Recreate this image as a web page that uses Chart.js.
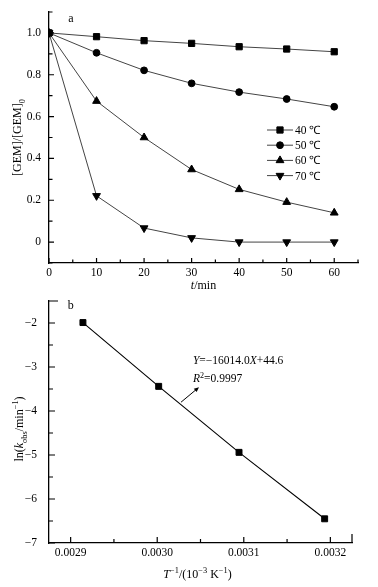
<!DOCTYPE html>
<html><head><meta charset="utf-8">
<script src="https://cdn.jsdelivr.net/npm/chart.js@4"></script>
<style>
html,body{margin:0;padding:0;background:#fff;width:378px;height:587px;overflow:hidden}
#wa{position:absolute;left:0;top:0;width:378px;height:295px}
#wb{position:absolute;left:0;top:295px;width:378px;height:292px}
</style></head><body>
<div id="wa"><canvas id="ca"></canvas></div>
<div id="wb"><canvas id="cb"></canvas></div>
<script>
// ---------- data (chart a) ----------
const timeMin = [0, 10, 20, 30, 40, 50, 60];
const ratio40 = [1.0, 0.982, 0.963, 0.950, 0.934, 0.923, 0.910];
const ratio50 = [1.0, 0.905, 0.821, 0.759, 0.717, 0.684, 0.647];
const ratio60 = [1.0, 0.674, 0.500, 0.347, 0.252, 0.191, 0.140];
const ratio70 = [1.0, 0.221, 0.067, 0.020, 0.0, 0.0, 0.0];
const err40 = [0, 0.025, 0.024, 0.022, 0.019, 0.019, 0.012];
const err50 = [0, 0.016, 0.012, 0.012, 0.012, 0.021, 0.010];
const err60 = [0, 0.030, 0.024, 0.021, 0.012, 0.014, 0.016];
const err70 = [0, 0.016, 0.010, 0.010, 0.006, 0.006, 0.006];
const seriesLabels = ['40 \u2103', '50 \u2103', '60 \u2103', '70 \u2103'];
const xTickValsA = [0, 5, 10, 15, 20, 25, 30, 35, 40, 45, 50, 55, 60, 65];
const xTickLabelsA = ['0', '', '10', '', '20', '', '30', '', '40', '', '50', '', '60', ''];
const yTickValsA = [-0.1, 0, 0.1, 0.2, 0.3, 0.4, 0.5, 0.6, 0.7, 0.8, 0.9, 1.0, 1.1];
const yTickLabelsA = ['', '0', '', '0.2', '', '0.4', '', '0.6', '', '0.8', '', '1.0', ''];

// ---------- data (chart b) ----------
const invTemp = [0.0029142, 0.0030017, 0.0030945, 0.0031934];
const lnKobs = [-1.99, -3.44, -4.94, -6.45];
const xTickValsB = [0.0029, 0.00295, 0.0030, 0.00305, 0.0031, 0.00315, 0.0032];
const xTickLabelsB = ['0.0029', '', '0.0030', '', '0.0031', '', '0.0032'];
const yTickValsB = [-7, -6.5, -6, -5.5, -5, -4.5, -4, -3.5, -3, -2.5, -2];
const yTickLabelsB = ['\u22127', '', '\u22126', '', '\u22125', '', '\u22124', '', '\u22123', '', '\u22122'];

const FONT = '"Liberation Serif", "Times New Roman", serif';

function rich(ctx, segs, x, y, size, rot, align) {
  ctx.save();
  ctx.translate(x, y);
  if (rot) ctx.rotate(rot);
  const fontOf = s => (s.i ? 'italic ' : '') + ((s.sub || s.sup) ? size * 0.7 : size) + 'px ' + FONT;
  let w = 0;
  segs.forEach(s => { ctx.font = fontOf(s); s.w = ctx.measureText(s.t).width; w += s.w; });
  let cx = align === 'left' ? 0 : -w / 2;
  ctx.textBaseline = 'alphabetic'; ctx.textAlign = 'left'; ctx.fillStyle = '#000';
  const base = size * 0.35;
  segs.forEach(s => {
    ctx.font = fontOf(s);
    const dy = s.sub ? size * 0.3 : (s.sup ? -size * 0.4 : 0);
    ctx.fillText(s.t, cx, base + dy);
    cx += s.w;
  });
  ctx.restore();
}

function inwardTicks(xv, xl, yv, yl, major, minor, caps) {
  return {
    id: 'inTicks',
    afterDatasetsDraw(chart) {
      const ctx = chart.ctx, a = chart.chartArea, xs = chart.scales.x, ys = chart.scales.y;
      ctx.save();
      ctx.strokeStyle = '#000'; ctx.lineWidth = 1.2;
      ctx.beginPath();
      xv.forEach((v, i) => {
        const p = xs.getPixelForValue(v), L = xl[i] ? major : minor;
        ctx.moveTo(p, a.bottom); ctx.lineTo(p, a.bottom - L);
      });
      yv.forEach((v, i) => {
        const p = ys.getPixelForValue(v), L = yl[i] ? major : minor;
        ctx.moveTo(a.left, p); ctx.lineTo(a.left + L, p);
      });
      if (caps) {
        ctx.moveTo(a.right, a.bottom); ctx.lineTo(a.right, a.bottom - caps);
        ctx.moveTo(a.left, a.top); ctx.lineTo(a.left + caps, a.top);
      }
      ctx.stroke();
      ctx.restore();
    }
  };
}

function fixScaleX(h) {
  return s => { s.height = h; s.paddingLeft = 0; s.paddingRight = 0; s.paddingTop = 0; s.paddingBottom = 0; };
}
function fixScaleY(w) {
  return s => { s.width = w; s.paddingLeft = 0; s.paddingRight = 0; s.paddingTop = 0; s.paddingBottom = 0; };
}

// ---------------- chart a ----------------
const errsA = [err40, err50, err60, err70];
const errorBars = {
  id: 'errBars',
  beforeDatasetsDraw(chart) {
    const ctx = chart.ctx, xs = chart.scales.x, ys = chart.scales.y;
    ctx.save(); ctx.strokeStyle = '#333'; ctx.lineWidth = 1;
    chart.data.datasets.forEach((ds, di) => {
      const e = errsA[di];
      ds.data.forEach((v, j) => {
        if (!e[j]) return;
        const x = xs.getPixelForValue(timeMin[j]);
        const y1 = ys.getPixelForValue(v + e[j]), y2 = ys.getPixelForValue(v - e[j]);
        ctx.beginPath();
        ctx.moveTo(x, y1); ctx.lineTo(x, y2);
        ctx.moveTo(x - 2.5, y1); ctx.lineTo(x + 2.5, y1);
        ctx.moveTo(x - 2.5, y2); ctx.lineTo(x + 2.5, y2);
        ctx.stroke();
      });
    });
    ctx.restore();
  }
};
const decoA = {
  id: 'decoA',
  afterDraw(chart) {
    const ctx = chart.ctx, a = chart.chartArea, xs = chart.scales.x, ys = chart.scales.y;
    // legend
    chart.data.datasets.forEach((ds, i) => {
      const y = a.top + 118 + i * 15.2;
      const x0 = a.left + 218, x1 = a.left + 244, xm = a.left + 231;
      ctx.save();
      ctx.strokeStyle = ds.borderColor; ctx.lineWidth = 1;
      ctx.beginPath(); ctx.moveTo(x0, y); ctx.lineTo(x1, y); ctx.stroke();
      ctx.fillStyle = '#000'; ctx.strokeStyle = '#000';
      Chart.helpers.drawPoint(ctx, { pointStyle: ds.pointStyle, rotation: ds.pointRotation || 0, radius: ds.pointRadius, borderWidth: 1 }, xm, y);
      ctx.restore();
      rich(ctx, [{ t: seriesLabels[i] }], x1 + 2, y, 11.5, 0, 'left');
    });
    // panel label
    rich(ctx, [{ t: 'a' }], xs.getPixelForValue(4.63), ys.getPixelForValue(1.071), 12, 0, 'center');
    // axis titles
    rich(ctx, [{ t: '[GEM]/[GEM]' }, { t: '0', sub: true }], 17, (a.top + a.bottom) / 2, 12, -Math.PI / 2, 'center');
    rich(ctx, [{ t: 't', i: true }, { t: '/min' }], (a.left + a.right) / 2, 285, 12, 0, 'center');
  }
};

const mk = (label, data, style, radius, rot) => ({
  label, data, borderColor: '#444', borderWidth: 1, pointStyle: style, pointRadius: radius,
  pointRotation: rot || 0, pointBackgroundColor: '#000', pointBorderColor: '#000', pointBorderWidth: 1,
  tension: 0, fill: false
});

new Chart(document.getElementById('ca'), {
  type: 'line',
  data: {
    labels: timeMin,
    datasets: [
      mk(seriesLabels[0], ratio40, 'rect', 4.4),
      mk(seriesLabels[1], ratio50, 'circle', 3.4),
      mk(seriesLabels[2], ratio60, 'triangle', 4.5),
      mk(seriesLabels[3], ratio70, 'triangle', 4.5, 180)
    ].map(d => ({ ...d, data: d.data.map((v, j) => ({ x: timeMin[j], y: v })) }))
  },
  options: {
    responsive: true, maintainAspectRatio: false, animation: false, devicePixelRatio: 1, events: [],
    layout: { padding: { left: 0, top: 12, right: 20, bottom: 0 } },
    plugins: { legend: { display: false }, tooltip: { enabled: false } },
    scales: {
      x: {
        type: 'linear', min: 0, max: 65,
        afterBuildTicks: s => { s.ticks = xTickValsA.map(v => ({ value: v })); },
        afterFit: fixScaleX(32),
        grid: { display: false, drawTicks: false },
        border: { display: true, color: '#000', width: 1.3 },
        ticks: { autoSkip: false, maxRotation: 0, padding: 3, color: '#000', font: { family: FONT, size: 11.5 },
                 callback: (v, i) => xTickLabelsA[i] }
      },
      y: {
        type: 'linear', min: -0.1, max: 1.1,
        afterBuildTicks: s => { s.ticks = yTickValsA.map(v => ({ value: v })); },
        afterFit: fixScaleY(49),
        grid: { display: false, drawTicks: false },
        border: { display: true, color: '#000', width: 1.3 },
        ticks: { autoSkip: false, padding: 8, color: '#000', font: { family: FONT, size: 11.5 },
                 callback: (v, i) => yTickLabelsA[i] }
      }
    }
  },
  plugins: [errorBars, inwardTicks(xTickValsA, xTickLabelsA, yTickValsA, yTickLabelsA, 5, 3.5, 0), decoA]
});

// ---------------- chart b ----------------
const fitText = [[{ t: 'Y', i: true }, { t: '=\u221216014.0' }, { t: 'X', i: true }, { t: '+44.6' }],
                 [{ t: 'R', i: true }, { t: '2', sup: true }, { t: '=0.9997' }]];
const decoB = {
  id: 'decoB',
  afterDraw(chart) {
    const ctx = chart.ctx, a = chart.chartArea, xs = chart.scales.x, ys = chart.scales.y;
    rich(ctx, [{ t: 'b' }], xs.getPixelForValue(0.0029), ys.getPixelForValue(-1.575), 12, 0, 'center');
    rich(ctx, fitText[0], xs.getPixelForValue(0.0030413), ys.getPixelForValue(-2.846), 11.5, 0, 'left');
    rich(ctx, fitText[1], xs.getPixelForValue(0.0030413), ys.getPixelForValue(-3.255), 11.5, 0, 'left');
    // arrow
    const tx = xs.getPixelForValue(0.0030275), ty = ys.getPixelForValue(-3.80);
    const hx = xs.getPixelForValue(0.0030483), hy = ys.getPixelForValue(-3.459);
    const ang = Math.atan2(hy - ty, hx - tx);
    ctx.save();
    ctx.strokeStyle = '#000'; ctx.fillStyle = '#000'; ctx.lineWidth = 1;
    ctx.beginPath(); ctx.moveTo(tx, ty); ctx.lineTo(hx - 3 * Math.cos(ang), hy - 3 * Math.sin(ang)); ctx.stroke();
    ctx.beginPath();
    ctx.moveTo(hx, hy);
    ctx.lineTo(hx - 5 * Math.cos(ang) + 2.2 * Math.sin(ang), hy - 5 * Math.sin(ang) - 2.2 * Math.cos(ang));
    ctx.lineTo(hx - 5 * Math.cos(ang) - 2.2 * Math.sin(ang), hy - 5 * Math.sin(ang) + 2.2 * Math.cos(ang));
    ctx.closePath(); ctx.fill();
    ctx.restore();
    // axis titles
    rich(ctx, [{ t: 'ln(' }, { t: 'k', i: true }, { t: 'obs', sub: true }, { t: '/min' }, { t: '\u22121', sup: true }, { t: ')' }],
         19, (a.top + a.bottom) / 2 + 7, 12, -Math.PI / 2, 'center');
    rich(ctx, [{ t: 'T', i: true }, { t: '\u22121', sup: true }, { t: '/(10' }, { t: '\u22123', sup: true }, { t: ' K' }, { t: '\u22121', sup: true }, { t: ')' }],
         (a.left + a.right) / 2 - 3, 279, 12, 0, 'center');
  }
};

new Chart(document.getElementById('cb'), {
  type: 'line',
  data: {
    datasets: [{
      label: 'ln k', data: invTemp.map((x, j) => ({ x, y: lnKobs[j] })),
      borderColor: '#000', borderWidth: 1.1, pointStyle: 'rect', pointRadius: 4.2,
      pointBackgroundColor: '#000', pointBorderColor: '#000', pointBorderWidth: 1, tension: 0, fill: false
    }]
  },
  options: {
    responsive: true, maintainAspectRatio: false, animation: false, devicePixelRatio: 1, events: [],
    layout: { padding: { left: 0, top: 6, right: 26, bottom: 0 } },
    plugins: { legend: { display: false }, tooltip: { enabled: false } },
    scales: {
      x: {
        type: 'linear', min: 0.002875, max: 0.003225,
        afterBuildTicks: s => { s.ticks = xTickValsB.map(v => ({ value: v })); },
        afterFit: fixScaleX(44),
        grid: { display: false, drawTicks: false },
        border: { display: true, color: '#000', width: 1.3 },
        ticks: { autoSkip: false, maxRotation: 0, padding: 3, color: '#000', font: { family: FONT, size: 11.5 },
                 callback: (v, i) => xTickLabelsB[i] }
      },
      y: {
        type: 'linear', min: -7, max: -1.5,
        afterBuildTicks: s => { s.ticks = yTickValsB.map(v => ({ value: v })); },
        afterFit: fixScaleY(49),
        grid: { display: false, drawTicks: false },
        border: { display: true, color: '#000', width: 1.3 },
        ticks: { autoSkip: false, padding: 12, color: '#000', font: { family: FONT, size: 11.5 },
                 callback: (v, i) => yTickLabelsB[i] }
      }
    }
  },
  plugins: [inwardTicks(xTickValsB, xTickLabelsB, yTickValsB, yTickLabelsB, 6, 4, 9), decoB]
});
</script>
</body></html>
